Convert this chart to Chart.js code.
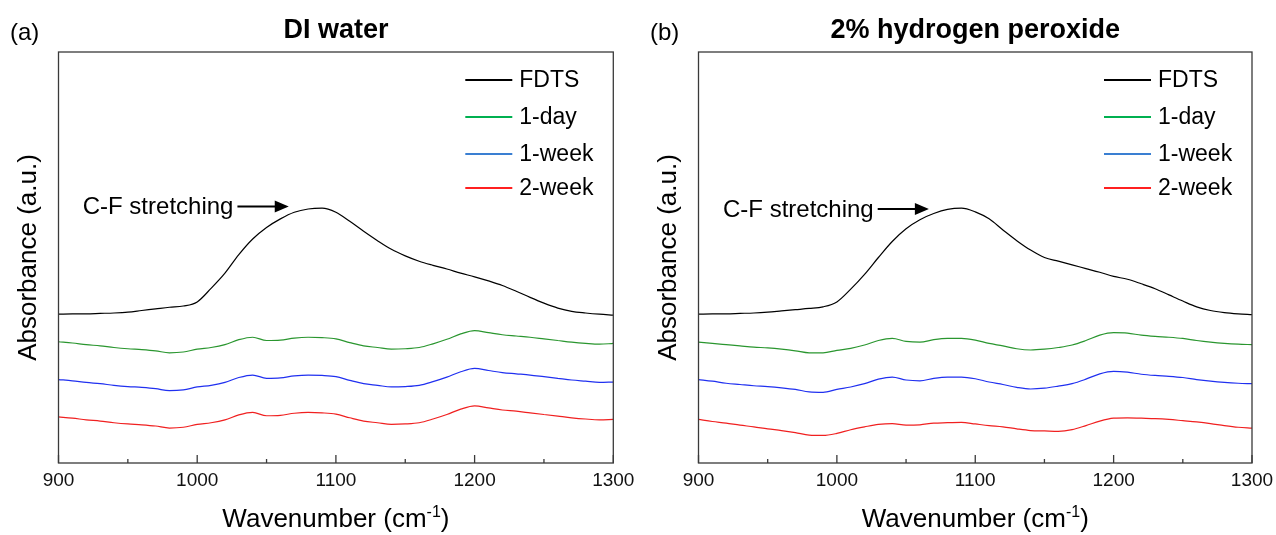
<!DOCTYPE html>
<html><head><meta charset="utf-8">
<script src="https://cdn.jsdelivr.net/npm/chart.js@4.4.1/dist/chart.umd.min.js"></script>
<style>
html,body{margin:0;padding:0;background:#fff;width:1276px;height:535px;overflow:hidden}
#c1{position:absolute;left:0;top:0}
#c2{position:absolute;left:638px;top:0}
</style></head><body>
<canvas id="c1" width="638" height="535"></canvas>
<canvas id="c2" width="638" height="535"></canvas>
<script>
// ---------- data (absorbance, arbitrary units, offset traces) ----------
const wavenumbers = [900,910,920,930,940,950,960,970,980,990,1000,1010,1020,1030,1040,1050,1060,1070,1080,1090,1100,1110,1120,1130,1140,1150,1160,1170,1180,1190,1200,1210,1220,1230,1240,1250,1260,1270,1280,1290,1300];
const seriesNames = ['FDTS','1-day','1-week','2-week'];
const xTickValues = [900,1000,1100,1200,1300];
const xMinorTickValues = [950,1050,1150,1250];

// (a) DI water
const diFDTS  = [0.362,0.363,0.363,0.364,0.365,0.367,0.371,0.375,0.379,0.382,0.392,0.425,0.462,0.507,0.545,0.573,0.594,0.610,0.618,0.620,0.610,0.588,0.564,0.541,0.520,0.504,0.491,0.481,0.472,0.462,0.453,0.443,0.432,0.418,0.403,0.389,0.377,0.369,0.365,0.362,0.360];
const di1day  = [0.295,0.292,0.288,0.285,0.281,0.278,0.276,0.273,0.268,0.270,0.277,0.281,0.288,0.300,0.306,0.298,0.299,0.304,0.306,0.305,0.302,0.293,0.285,0.281,0.277,0.278,0.281,0.290,0.301,0.314,0.322,0.317,0.312,0.309,0.306,0.302,0.298,0.294,0.291,0.289,0.291];
const di1week = [0.203,0.200,0.196,0.193,0.189,0.186,0.184,0.181,0.176,0.178,0.185,0.189,0.196,0.208,0.214,0.206,0.207,0.212,0.214,0.213,0.210,0.201,0.193,0.189,0.185,0.186,0.189,0.198,0.209,0.222,0.230,0.225,0.220,0.217,0.214,0.210,0.206,0.202,0.199,0.196,0.197];
const di2week = [0.112,0.109,0.105,0.102,0.098,0.095,0.093,0.090,0.085,0.087,0.094,0.098,0.105,0.117,0.123,0.115,0.116,0.121,0.123,0.122,0.119,0.110,0.102,0.098,0.094,0.095,0.098,0.107,0.118,0.131,0.139,0.134,0.129,0.126,0.122,0.118,0.114,0.110,0.107,0.105,0.106];

// (b) 2% hydrogen peroxide
const hpFDTS  = [0.362,0.363,0.363,0.364,0.365,0.367,0.370,0.373,0.376,0.380,0.392,0.423,0.459,0.500,0.539,0.570,0.592,0.607,0.617,0.620,0.611,0.594,0.567,0.541,0.518,0.500,0.491,0.482,0.473,0.464,0.454,0.447,0.436,0.424,0.409,0.394,0.380,0.371,0.366,0.363,0.361];
const hp1day  = [0.294,0.291,0.288,0.285,0.282,0.280,0.277,0.273,0.268,0.268,0.274,0.279,0.287,0.298,0.303,0.296,0.294,0.300,0.303,0.303,0.299,0.291,0.285,0.278,0.275,0.277,0.281,0.287,0.298,0.311,0.317,0.316,0.311,0.308,0.306,0.303,0.298,0.294,0.291,0.289,0.288];
const hp1week = [0.203,0.199,0.194,0.191,0.188,0.186,0.183,0.179,0.173,0.172,0.179,0.185,0.193,0.204,0.209,0.202,0.200,0.206,0.209,0.209,0.205,0.197,0.191,0.184,0.180,0.182,0.187,0.193,0.204,0.217,0.223,0.221,0.216,0.213,0.211,0.208,0.203,0.199,0.196,0.194,0.193];
const hp2week = [0.106,0.101,0.097,0.092,0.088,0.083,0.079,0.074,0.068,0.067,0.072,0.081,0.088,0.094,0.096,0.092,0.093,0.097,0.098,0.099,0.095,0.091,0.088,0.083,0.079,0.078,0.077,0.081,0.091,0.102,0.109,0.110,0.109,0.108,0.106,0.103,0.100,0.096,0.091,0.087,0.085];

// ---------- styles ----------
const FONT = "'Liberation Sans', Arial, sans-serif";
const lineColors   = ['#000000','#2a962f','#2030f0','#f02020'];
const legendColors = ['#000000','#00b050','#3a7fd2','#ff2020'];

function panelPlugin(p) {
  return {
    id: 'panel' + p.key,
    afterDraw(chart) {
      const ctx = chart.ctx, a = chart.chartArea, xs = chart.scales.x, ys = chart.scales.y;
      ctx.save();
      // frame
      ctx.strokeStyle = '#3a3a3a'; ctx.lineWidth = 1.3;
      ctx.strokeRect(a.left, a.top, a.right - a.left, a.bottom - a.top);
      // inward ticks
      ctx.beginPath();
      xTickValues.forEach(v => { const x = xs.getPixelForValue(v); ctx.moveTo(x, a.bottom); ctx.lineTo(x, a.bottom - 8); });
      xMinorTickValues.forEach(v => { const x = xs.getPixelForValue(v); ctx.moveTo(x, a.bottom); ctx.lineTo(x, a.bottom - 4); });
      ctx.stroke();

      ctx.fillStyle = '#000';
      // panel letter
      ctx.font = '24px ' + FONT; ctx.textAlign = 'left'; ctx.textBaseline = 'middle';
      ctx.fillText(p.letter, a.left - 48.5, 33);
      // title
      ctx.font = 'bold 27px ' + FONT; ctx.textAlign = 'center';
      ctx.fillText(p.title, (a.left + a.right) / 2, 31);

      // y-axis title
      ctx.save();
      ctx.translate(a.left - 30, (a.top + a.bottom) / 2);
      ctx.rotate(-Math.PI / 2);
      ctx.font = '26px ' + FONT; ctx.textAlign = 'center'; ctx.textBaseline = 'middle';
      ctx.fillText('Absorbance (a.u.)', 0, 0);
      ctx.restore();

      // x-axis title with superscript
      const big = '26px ' + FONT, small = '16px ' + FONT;
      const t1 = 'Wavenumber (cm', t2 = '-1', t3 = ')';
      ctx.font = big; const w1 = ctx.measureText(t1).width, w3 = ctx.measureText(t3).width;
      ctx.font = small; const w2 = ctx.measureText(t2).width;
      let x0 = (a.left + a.right) / 2 - (w1 + w2 + w3) / 2;
      const yb = 527;
      ctx.textAlign = 'left'; ctx.textBaseline = 'alphabetic';
      ctx.font = big; ctx.fillText(t1, x0, yb);
      ctx.font = small; ctx.fillText(t2, x0 + w1, yb - 10);
      ctx.font = big; ctx.fillText(t3, x0 + w1 + w2, yb);

      // legend
      const legendRows = [80, 117, 154, 188];
      ctx.font = '23px ' + FONT; ctx.textBaseline = 'middle';
      chart.data.datasets.forEach((ds, i) => {
        const y = legendRows[i];
        ctx.strokeStyle = legendColors[i]; ctx.lineWidth = 2;
        ctx.beginPath(); ctx.moveTo(a.right - 148, y); ctx.lineTo(a.right - 101, y); ctx.stroke();
        ctx.fillStyle = '#000';
        ctx.fillText(ds.label, a.right - 94, y + 1);
      });

      // annotation
      const ax0 = xs.getPixelForValue(p.arrow.from), ax1 = xs.getPixelForValue(p.arrow.to);
      const ay = ys.getPixelForValue(p.arrow.y);
      ctx.strokeStyle = '#000'; ctx.lineWidth = 2;
      ctx.beginPath(); ctx.moveTo(ax0, ay); ctx.lineTo(ax1 - 10, ay); ctx.stroke();
      ctx.beginPath(); ctx.moveTo(ax1, ay); ctx.lineTo(ax1 - 14, ay - 6); ctx.lineTo(ax1 - 14, ay + 6); ctx.closePath();
      ctx.fillStyle = '#000'; ctx.fill();
      ctx.font = '24px ' + FONT; ctx.textAlign = 'right'; ctx.textBaseline = 'middle';
      ctx.fillText('C-F stretching', ax0 - 4, ay + 1);
      ctx.restore();
    }
  };
}

function makeChart(id, p) {
  return new Chart(document.getElementById(id), {
    type: 'line',
    data: {
      datasets: p.series.map((s, i) => ({
        label: seriesNames[i],
        data: wavenumbers.map((w, j) => ({ x: w, y: s[j] })),
        borderColor: lineColors[i], borderWidth: 1.2,
        pointRadius: 0, cubicInterpolationMode: 'monotone', fill: false
      }))
    },
    options: {
      responsive: false, animation: false, devicePixelRatio: 1,
      layout: { padding: { left: p.padL, right: p.padR, top: 52, bottom: 0 } },
      plugins: { legend: { display: false }, tooltip: { enabled: false }, title: { display: false } },
      scales: {
        x: {
          type: 'linear', min: 900, max: 1300,
          afterBuildTicks: s => { s.ticks = xTickValues.map(v => ({ value: v })); },
          afterFit: s => { s.height = 72; s.paddingLeft = 0; s.paddingRight = 0; },
          grid: { display: false, drawTicks: false }, border: { display: false },
          ticks: { font: { family: FONT, size: 19 }, color: '#111', padding: 6, maxRotation: 0, autoSkip: false,
                   callback: v => String(v) }
        },
        y: { display: false, min: 0, max: 1 }
      }
    },
    plugins: [panelPlugin(p)]
  });
}

makeChart('c1', { key: 'a', letter: '(a)', title: 'DI water', padL: 58.5, padR: 24.7,
  series: [diFDTS, di1day, di1week, di2week], arrow: { from: 1029, to: 1066, y: 0.624 } });
makeChart('c2', { key: 'b', letter: '(b)', title: '2% hydrogen peroxide', padL: 60.5, padR: 24,
  series: [hpFDTS, hp1day, hp1week, hp2week], arrow: { from: 1029.5, to: 1066.5, y: 0.618 } });
</script>
</body></html>
